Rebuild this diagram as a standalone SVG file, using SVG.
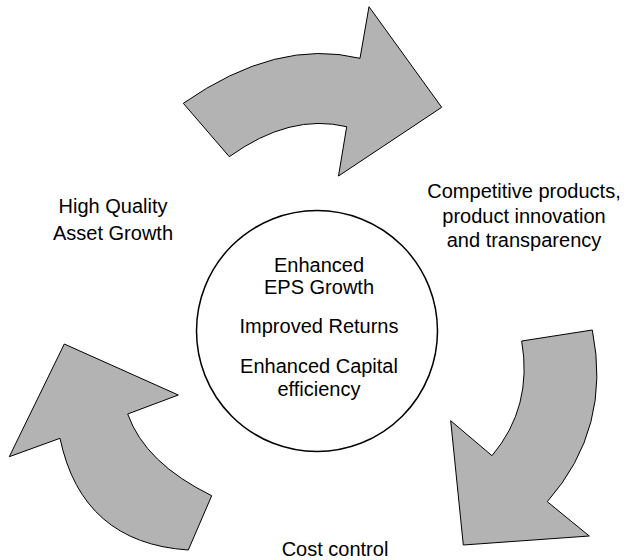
<svg xmlns="http://www.w3.org/2000/svg" width="631" height="560" viewBox="0 0 631 560">
<style>
.arrow{fill:#b3b3b3;stroke:#000;stroke-width:1;stroke-linejoin:miter}
.t{font-family:"Liberation Sans",Arial,sans-serif;font-size:20px;fill:#000;text-anchor:middle}
</style>
<rect x="0" y="0" width="631" height="560" fill="#fff"/>
<g id="connectors">
<path class="arrow" d="M183.3,103.3 Q277,38 360,58.3 L369,6.7 L441.7,107.3 L338.5,176 L346.7,126.7 Q290,113 229.3,156.7 Z"/>
<path class="arrow" d="M592.3,330 Q612,428 547.3,501.7 L589.3,536 L463.3,545 L450.7,420.7 L492,455.7 Q533,407 521.7,341 Z"/>
<path class="arrow" d="M188.3,550 Q82,543 60,438.3 L9.3,456.7 L64.3,344 L178.3,395 L127.7,414 Q145,463 211.7,495.7 Z"/>
</g>
<g id="center">
<circle cx="317" cy="331" r="120.5" fill="#fff" stroke="#000" stroke-width="1.5"/>
<text class="t" x="319" y="271.7">Enhanced</text>
<text class="t" x="319" y="294">EPS Growth</text>
<text class="t" x="319" y="333.3">Improved Returns</text>
<text class="t" x="319" y="373.3">Enhanced Capital</text>
<text class="t" x="319" y="396">efficiency</text>
</g>
<g id="products">
<text class="t" x="524" y="198">Competitive products,</text>
<text class="t" x="524" y="222.5">product innovation</text>
<text class="t" x="524" y="247">and transparency</text>
</g>
<g id="cost">
<text class="t" x="335" y="556">Cost control</text>
</g>
<g id="asset">
<text class="t" x="113" y="213">High Quality</text>
<text class="t" x="113" y="240">Asset Growth</text>
</g>
</svg>
